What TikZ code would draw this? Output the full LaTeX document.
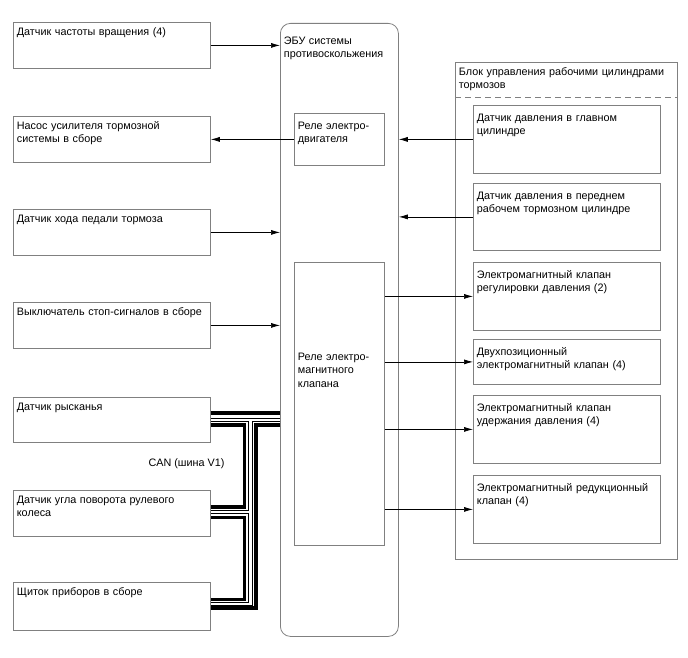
\documentclass[tikz,border=0pt]{standalone}
\usepackage{fontspec}
\setmainfont{Liberation Sans}
\usetikzlibrary{arrows.meta}
\definecolor{boxgray}{RGB}{128,128,128}

\begin{document}
\begin{tikzpicture}[x=1pt,y=-1pt,
    font=\fontsize{10.8}{13.3}\selectfont,
    unit/.style={draw=boxgray,line width=.8pt,anchor=north west,align=left,
        inner xsep=3.5pt,inner ysep=4pt},
    lbox/.style={unit,text width=190pt,text height=9pt},
    rbox/.style={unit,text width=180pt,text height=12pt},
    sig/.style={line width=.7pt,-{Latex[length=9pt,width=5pt]}},
    canh/.style={line width=3.2pt},
    canl/.style={line width=1pt}]
    \useasboundingbox (0,0) rectangle (688,658);
    \node[lbox,text depth=29pt] (speed) at (13,22) {Датчик частоты вращения (4)};
    \node[lbox,text depth=29pt] (pump) at (13,116) {Насос усилителя тормозной\\системы в сборе};
    \node[lbox,text depth=29pt] (pedal) at (13,209) {Датчик хода педали тормоза};
    \node[lbox,text depth=29pt] (stopsw) at (13,302) {Выключатель стоп-сигналов в сборе};
    \node[lbox,text depth=28pt] (yaw) at (13,397) {Датчик рысканья};
    \node[lbox,text depth=29pt] (steer) at (13,490) {Датчик угла поворота рулевого\\колеса};
    \node[lbox,text depth=31pt] (meter) at (13,582) {Щиток приборов в сборе};
    \node[unit,rounded corners=10pt,text width=111pt,text height=17pt,text depth=588pt] (ecu) at (280,23) {ЭБУ системы\\противоскольжения};
    \node[unit,text width=83pt,text height=12pt,text depth=32pt] (relaym) at (294,113) {Реле электро-\\двигателя};
    \node[unit,text width=83pt,text height=94pt,text depth=181pt] (relayv) at (294,262) {Реле электро-\\магнитного\\клапана};
    \node[unit,text width=215pt,text height=9pt,text depth=480pt] (block) at (455,62) {Блок управления рабочими цилиндрами\\тормозов};
    \draw[boxgray,line width=.8pt,dash pattern=on 6pt off 4pt] ([yshift=-35pt]block.north west) -- ([yshift=-35pt]block.north east);
    \node[rbox,text depth=48pt] (pmaster) at (473,105) {Датчик давления в главном\\цилиндре};
    \node[rbox,text depth=47pt] (pwheel) at (473,183) {Датчик давления в переднем\\рабочем тормозном цилиндре};
    \node[rbox,text depth=48pt] (vreg) at (473,262) {Электромагнитный клапан\\регулировки давления (2)};
    \node[rbox,text depth=25pt] (vtwo) at (473,339) {Двухпозиционный\\электромагнитный клапан (4)};
    \node[rbox,text depth=48pt] (vhold) at (473,395) {Электромагнитный клапан\\удержания давления (4)};
    \node[rbox,text depth=48pt] (vred) at (473,475) {Электромагнитный редукционный\\клапан (4)};
    \node[anchor=west] (can) at (145,464) {CAN (шина V1)};
    \foreach \n in {speed,pedal,stopsw}
        \draw[sig] (\n.east) -- (\n.east -| ecu.west);
    \draw[sig] (relaym.west) -- (relaym.west -| pump.east);
    \foreach \n in {pmaster,pwheel}
        \draw[sig] (\n.west) -- (\n.west -| ecu.east);
    \foreach \n in {vreg,vtwo,vhold,vred}
        \draw[sig] (\n.west -| relayv.east) -- (\n.west);
    \draw[canh] (yaw.east |- 0,413) -- (ecu.west |- 0,413);
    \draw[canl] (yaw.east |- 0,418) -- (ecu.west |- 0,418);
    \draw[canl] (yaw.east |- 0,421) -| (248.5,510.5) -- (steer.east |- 0,510.5);
    \draw[canh] (yaw.east |- 0,425) -| (244.5,507) -- (steer.east |- 0,507);
    \draw[canl] (steer.east |- 0,513.5) -| (248.5,602) -- (meter.east |- 0,602);
    \draw[canh] (steer.east |- 0,517.5) -| (244.5,599.5) -- (meter.east |- 0,599.5);
    \draw[canl] (ecu.west |- 0,421) -| (252,605) -- (meter.east |- 0,605);
    \draw[canh] (ecu.west |- 0,425) -| (256,608) -- (meter.east |- 0,608);
\end{tikzpicture}
\end{document}
